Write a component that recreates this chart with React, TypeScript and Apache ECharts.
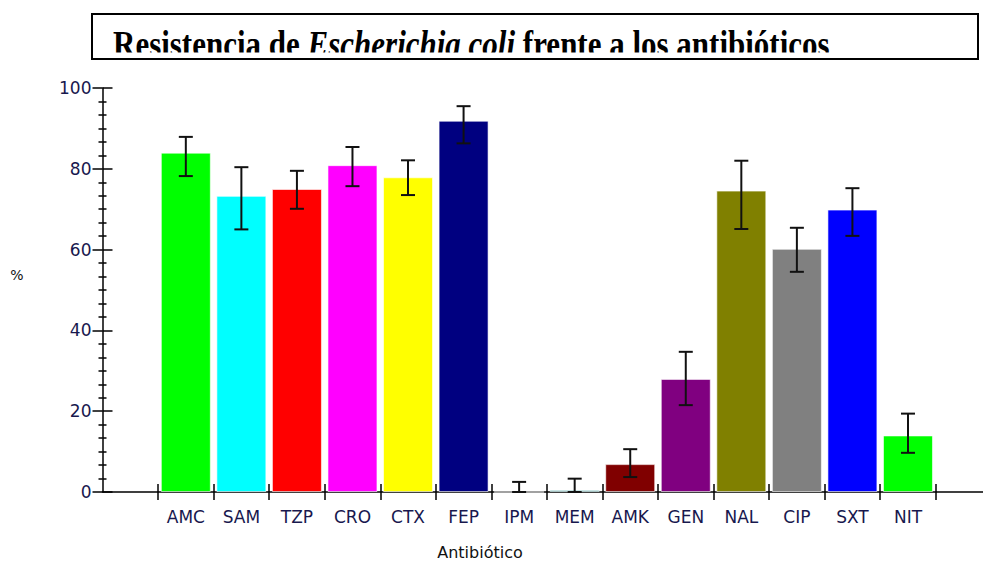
import React, { useEffect, useRef } from "react";
import * as echarts from "echarts";

const categories = ["AMC", "SAM", "TZP", "CRO", "CTX", "FEP", "IPM", "MEM", "AMK", "GEN", "NAL", "CIP", "SXT", "NIT"];
const values = [84, 73.3, 75, 80.9, 77.9, 91.9, 0, 0.5, 6.9, 28, 74.6, 60.2, 69.9, 14];
const errLow = [78.2, 65, 70.1, 75.7, 73.5, 86.3, 0, 0, 3.7, 21.5, 65.1, 54.5, 63.4, 9.7];
const errHigh = [87.9, 80.4, 79.5, 85.4, 82.1, 95.5, 2.5, 3.3, 10.6, 34.7, 82, 65.4, 75.2, 19.4];
const colors = ["#00ff00", "#00ffff", "#ff0000", "#ff00ff", "#ffff00", "#000080", "#008080", "#008080", "#800000", "#800080", "#808000", "#808080", "#0000ff", "#00ff00"];
const yTicks = [0, 20, 40, 60, 80, 100];

const TITLE_PLAIN_1 = "Resistencia de ";
const TITLE_ITALIC = "Escherichia coli";
const TITLE_PLAIN_2 = " frente a los antibióticos";
const X_NAME = "Antibiótico";
const Y_NAME = "%";

export default function App() {
  const ref = useRef<HTMLDivElement>(null);
  useEffect(() => {
    document.body.style.margin = "0";
    const chart = echarts.init(ref.current!, undefined, { renderer: "svg" });
    const axisCats = ["", ...categories];
    const labelColor = "#18184e";
    const font = "DejaVu Sans, Arial, sans-serif";
    const gridLeft = 102.5;
    const catW = 55.55;
    const gridTop = 88;
    const gridH = 404;
    const gridW = catW * axisCats.length;
    const barData: any[] = [null];
    values.forEach((v, i) => barData.push({ value: v, itemStyle: { color: colors[i] } }));
    const errData = categories.map((_, i) => [i + 1, errLow[i], errHigh[i]]);
    const tickInterval = (index: number) => index !== 0;
    const serif = "Liberation Serif, Times New Roman, serif";

    chart.setOption({
      animation: false,
      backgroundColor: "#ffffff",
      grid: { left: gridLeft, top: gridTop, width: gridW, height: gridH, containLabel: false },
      xAxis: [
        {
          type: "category",
          data: axisCats,
          boundaryGap: true,
          axisLine: { show: true, lineStyle: { color: "#000", width: 1.5 } },
          axisTick: { show: true, inside: false, length: 8, interval: tickInterval, lineStyle: { color: "#000", width: 1.5 } },
          axisLabel: { interval: 0, margin: 16, color: labelColor, fontSize: 17, fontFamily: font },
          splitLine: { show: false },
        },
        {
          type: "category",
          data: axisCats,
          position: "bottom",
          boundaryGap: true,
          axisLine: { show: false },
          axisTick: { show: true, inside: true, length: 8, interval: tickInterval, lineStyle: { color: "#000", width: 1.5 } },
          axisLabel: { show: false },
          splitLine: { show: false },
        },
      ],
      yAxis: [
        {
          type: "value",
          min: 0,
          max: 100,
          interval: 20,
          axisLine: { show: true, lineStyle: { color: "#000", width: 1.5 } },
          axisTick: { show: true, inside: false, length: 10, lineStyle: { color: "#000", width: 1.5 } },
          minorTick: { show: true, splitNumber: 6, length: 4, lineStyle: { color: "#000", width: 1.5 } },
          axisLabel: {
            margin: 11,
            color: labelColor,
            fontSize: 17,
            fontFamily: font,
            formatter: (v: number) => (yTicks.includes(v) ? String(v) : ""),
          },
          splitLine: { show: false },
        },
        {
          type: "value",
          min: 0,
          max: 100,
          interval: 20,
          position: "left",
          axisLine: { show: false },
          axisTick: { show: true, inside: true, length: 10, lineStyle: { color: "#000", width: 1.5 } },
          minorTick: { show: true, splitNumber: 6, length: 4, lineStyle: { color: "#000", width: 1.5 } },
          axisLabel: { show: false },
          splitLine: { show: false },
        },
      ],
      series: [
        {
          type: "bar",
          data: barData,
          barCategoryGap: "10%",
          itemStyle: { borderColor: "rgba(255,255,255,0.6)", borderWidth: 1 },
          z: 2,
        },
        {
          type: "custom",
          data: errData,
          z: 3,
          renderItem: (params: any, api: any) => {
            const x = api.value(0);
            const lo = api.coord([x, api.value(1)]);
            const hi = api.coord([x, api.value(2)]);
            const hw = 7;
            const style = { stroke: "#111", lineWidth: 2 };
            return {
              type: "group",
              children: [
                { type: "line", shape: { x1: hi[0], y1: hi[1], x2: lo[0], y2: lo[1] }, style },
                { type: "line", shape: { x1: hi[0] - hw, y1: hi[1], x2: hi[0] + hw, y2: hi[1] }, style },
                { type: "line", shape: { x1: lo[0] - hw, y1: lo[1], x2: lo[0] + hw, y2: lo[1] }, style },
              ],
            };
          },
        },
      ],
      graphic: [
        {
          type: "line",
          shape: { x1: gridLeft + gridW, y1: gridTop + gridH, x2: 983, y2: gridTop + gridH },
          style: { stroke: "#000", lineWidth: 1.5 },
        },
        {
          type: "rect",
          shape: { x: 92, y: 14, width: 886, height: 45 },
          style: { fill: "#fff", stroke: "none" },
          z: 1,
        },
        {
          type: "text",
          x: 113,
          y: 25,
          scaleY: 1.2,
          z: 2,
          style: {
            text: `{n|${TITLE_PLAIN_1}}{i|${TITLE_ITALIC}}{n|${TITLE_PLAIN_2}}`,
            verticalAlign: "top",
            rich: {
              n: { fontFamily: serif, fontWeight: "bold", fontSize: 31, fill: "#000" },
              i: { fontFamily: serif, fontWeight: "bold", fontStyle: "italic", fontSize: 31, fill: "#000" },
            },
          },
        },
        {
          type: "rect",
          shape: { x: 93, y: 52.5, width: 884, height: 6 },
          style: { fill: "#fff", stroke: "none" },
          z: 3,
        },
        {
          type: "rect",
          shape: { x: 92, y: 14, width: 886, height: 45 },
          style: { fill: "none", stroke: "#000", lineWidth: 2 },
          z: 4,
        },
        {
          type: "text",
          x: 480,
          y: 552,
          style: { text: X_NAME, fontFamily: font, fontSize: 16, fill: "#111", align: "center", verticalAlign: "middle" },
        },
        {
          type: "text",
          x: 17,
          y: 275,
          style: { text: Y_NAME, fontFamily: font, fontSize: 14, fill: "#111", align: "center", verticalAlign: "middle" },
        },
      ],
    });
    return () => chart.dispose();
  }, []);
  return <div ref={ref} style={{ width: 983, height: 562 }} />;
}
